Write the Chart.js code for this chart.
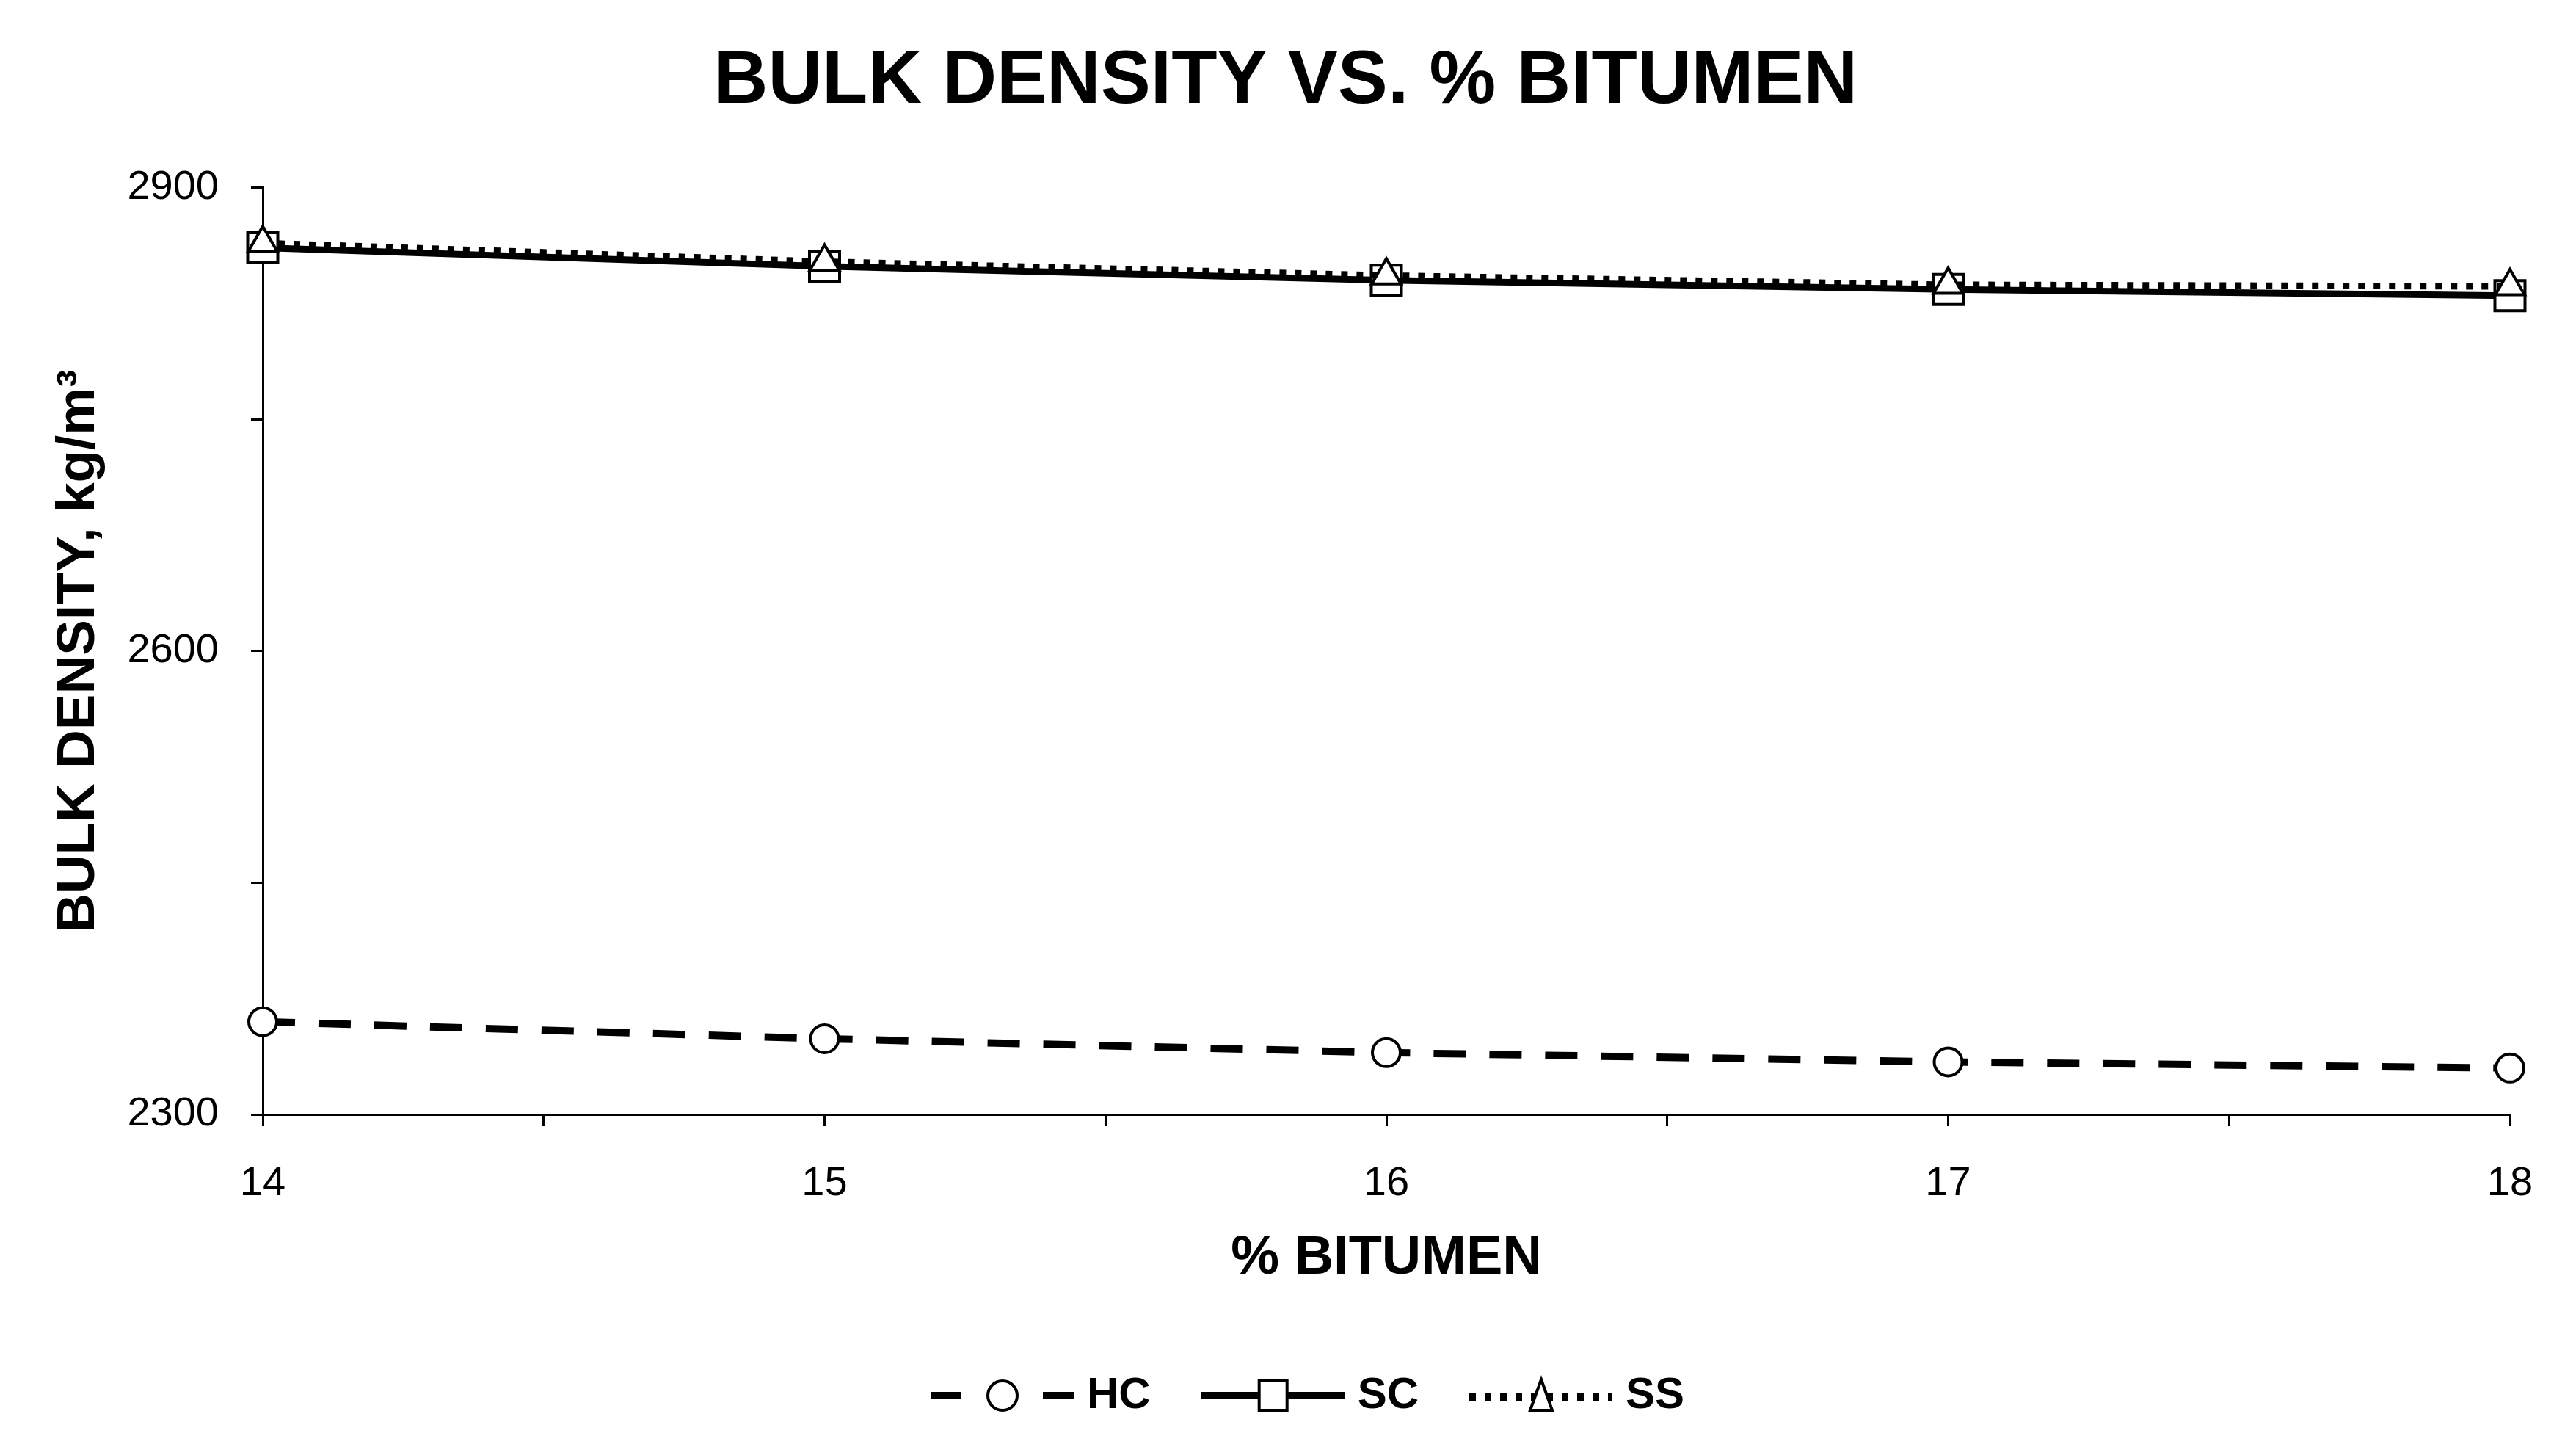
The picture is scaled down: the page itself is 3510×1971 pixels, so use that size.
<!DOCTYPE html>
<html>
<head>
<meta charset="utf-8">
<script src="https://cdn.jsdelivr.net/npm/chart.js@4.4.0/dist/chart.umd.min.js"></script>
<style>
  html, body { margin: 0; padding: 0; background: #fff; }
  #wrap { width: 3510px; height: 1971px; }
</style>
</head>
<body>
<div id="wrap"><canvas id="densityChart"></canvas></div>
<script>
// values
const bitumen = [14, 15, 16, 17, 18];
const hcDensity = [2360, 2349, 2340, 2334, 2330];
const scDensity = [2861, 2849, 2840, 2834, 2830];
const ssDensity = [2864, 2852, 2843, 2837, 2836];
const seriesNames = ['HC', 'SC', 'SS'];
const xLabelTicks = [14, 15, 16, 17, 18];
const yLabelTicks = [2300, 2600, 2900];

const FONT = "'Liberation Sans', Arial, sans-serif";

function toPoints(values) {
  return bitumen.map((b, i) => ({ x: b, y: values[i] }));
}

// little line+marker pictures for the legend, like the Excel legend keys
function legendSymbol(kind) {
  const c = document.createElement('canvas');
  c.width = 266; c.height = 56;
  const g = c.getContext('2d');
  const x0 = 71, w = 195, cy = 28, cx = x0 + 98;
  g.strokeStyle = '#000';
  g.fillStyle = '#fff';
  g.lineWidth = 10;
  g.beginPath();
  if (kind === 'HC') {
    g.moveTo(x0, cy); g.lineTo(x0 + 42, cy);
    g.moveTo(x0 + 153, cy); g.lineTo(x0 + w, cy);
  } else if (kind === 'SC') {
    g.moveTo(x0, cy); g.lineTo(x0 + w, cy);
  } else {
    g.setLineDash([9, 12]);
    g.moveTo(x0, cy + 2); g.lineTo(x0 + w, cy + 2);
  }
  g.stroke();
  g.setLineDash([]);
  g.lineWidth = 4;
  g.beginPath();
  if (kind === 'HC') {
    g.arc(cx, cy, 20, 0, Math.PI * 2);
  } else if (kind === 'SC') {
    g.rect(cx - 19, cy - 20, 38, 40);
  } else {
    g.moveTo(cx, cy - 22); g.lineTo(cx + 15, cy + 20); g.lineTo(cx - 15, cy + 20); g.closePath();
  }
  g.fill();
  g.stroke();
  return c;
}
const legendImages = seriesNames.map(legendSymbol);

const ctx = document.getElementById('densityChart');

new Chart(ctx, {
  type: 'line',
  data: {
    datasets: [
      {
        label: seriesNames[0],
        data: toPoints(hcDensity),
        order: 3,
        clip: false,
        borderColor: '#000',
        borderWidth: 10,
        borderDash: [44, 32],
        borderCapStyle: 'butt',
        pointStyle: 'circle',
        pointRadius: 19,
        pointBorderWidth: 4,
        pointBackgroundColor: '#fff',
        pointBorderColor: '#000'
      },
      {
        label: seriesNames[1],
        data: toPoints(scDensity),
        order: 2,
        clip: false,
        borderColor: '#000',
        borderWidth: 9,
        pointStyle: 'rect',
        pointRadius: 29,
        pointBorderWidth: 4,
        pointBackgroundColor: '#fff',
        pointBorderColor: '#000'
      },
      {
        label: seriesNames[2],
        data: toPoints(ssDensity),
        order: 1,
        clip: false,
        borderColor: '#000',
        borderWidth: 9,
        borderDash: [9, 12],
        borderCapStyle: 'butt',
        pointStyle: 'triangle',
        pointRadius: 23,
        pointBorderWidth: 4,
        pointBackgroundColor: '#fff',
        pointBorderColor: '#000'
      }
    ]
  },
  options: {
    responsive: true,
    maintainAspectRatio: false,
    animation: false,
    layout: { padding: { left: 84, right: 90, top: 0, bottom: 30 } },
    plugins: {
      tooltip: { enabled: false },
      title: {
        display: true,
        text: 'BULK DENSITY VS. % BITUMEN',
        color: '#000',
        font: { family: FONT, size: 102, weight: 'bold', lineHeight: 1.2 },
        padding: { top: 51, bottom: 82 }
      },
      legend: {
        position: 'bottom',
        labels: {
          usePointStyle: true,
          pointStyleWidth: 242,
          padding: 10,
          color: '#000',
          font: { family: FONT, size: 60, weight: 'bold' },
          generateLabels: chart => chart.data.datasets.map((ds, i) => ({
            text: ds.label,
            pointStyle: legendImages[i],
            fillStyle: 'rgba(0,0,0,0)',
            strokeStyle: 'rgba(0,0,0,0)',
            lineWidth: 0,
            hidden: false,
            datasetIndex: i
          }))
        }
      }
    },
    scales: {
      x: {
        type: 'linear',
        min: 14,
        max: 18,
        afterFit: scale => { scale.height = 343; },
        grid: { display: true, drawOnChartArea: false, drawTicks: true, tickLength: 16, color: '#000', lineWidth: 3 },
        border: { display: true, color: '#000', width: 3 },
        ticks: {
          stepSize: 0.5,
          autoSkip: false,
          maxRotation: 0,
          padding: 45,
          color: '#000',
          font: { family: FONT, size: 56 },
          callback: v => xLabelTicks.includes(v) ? v : ''
        },
        title: {
          display: true,
          text: '% BITUMEN',
          color: '#000',
          font: { family: FONT, size: 74, weight: 'bold', lineHeight: 1.2 },
          padding: { top: 0, bottom: 102 }
        }
      },
      y: {
        min: 2300,
        max: 2900,
        afterFit: scale => { scale.width = 274; },
        grid: { display: true, drawOnChartArea: false, drawTicks: true, tickLength: 16, color: '#000', lineWidth: 3 },
        border: { display: true, color: '#000', width: 3 },
        ticks: {
          stepSize: 150,
          autoSkip: false,
          padding: 44,
          color: '#000',
          font: { family: FONT, size: 56 },
          callback: v => yLabelTicks.includes(v) ? v : ''
        },
        title: {
          display: true,
          text: 'BULK DENSITY, kg/m³',
          color: '#000',
          font: { family: FONT, size: 73, weight: 'bold', lineHeight: 1.2 },
          padding: { top: -20, bottom: 0 }
        }
      }
    }
  }
});
</script>
</body>
</html>
